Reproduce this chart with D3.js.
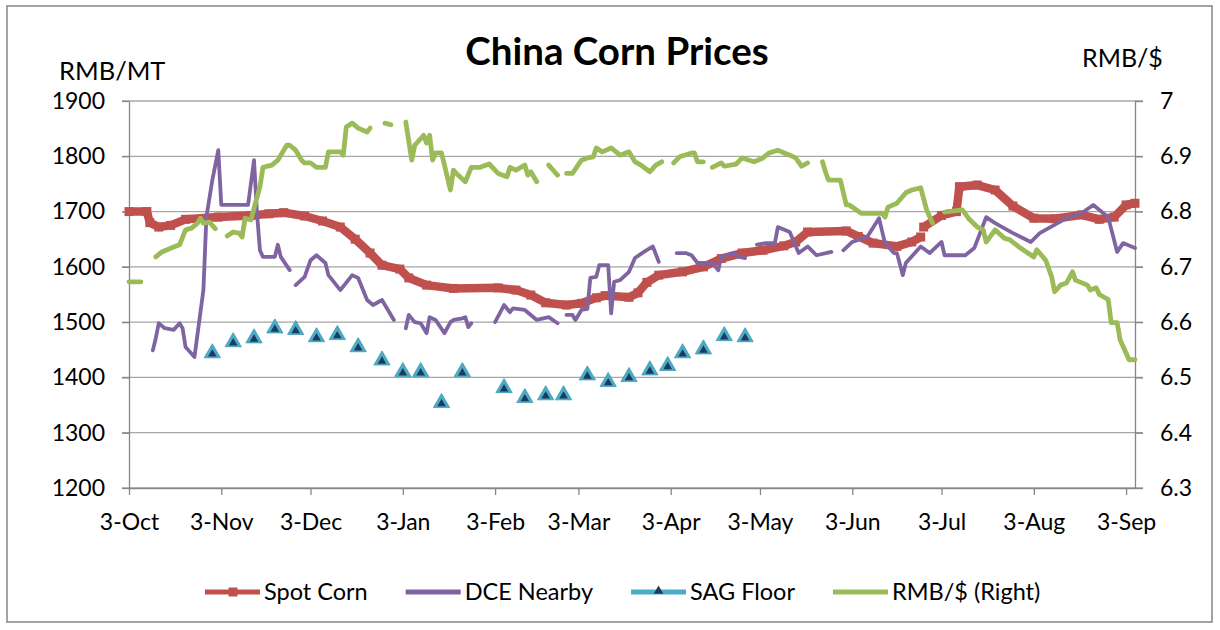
<!DOCTYPE html>
<html><head><meta charset="utf-8">
<script src="https://cdn.jsdelivr.net/npm/d3@7"></script>
<style>
body{margin:0;background:#fff}
svg{display:block}
text{font-family:Lato,"Open Sans",sans-serif;fill:#000}
</style>
</head><body>
<svg id="c" width="1220" height="630"></svg>
<script>
// ---------- DATA ----------
const xTickDates=["2016-10-03","2016-11-03","2016-12-03","2017-01-03","2017-02-03","2017-03-03","2017-04-03","2017-05-03","2017-06-03","2017-07-03","2017-08-03","2017-09-03"];
const leftTicks=[1200,1300,1400,1500,1600,1700,1800,1900];
const rightTicks=[6.3,6.4,6.5,6.6,6.7,6.8,6.9,7];
const seriesNames=["Spot Corn","DCE Nearby","SAG Floor","RMB/$ (Right)"];

const spotDates=["2016-10-03","2016-10-09","2016-10-10","2016-10-13","2016-10-17","2016-10-22",
"2016-11-02","2016-11-13","2016-11-19","2016-11-24",
"2016-12-01","2016-12-07","2016-12-13","2016-12-18","2016-12-23","2016-12-27",
"2017-01-02","2017-01-05","2017-01-11","2017-01-20",
"2017-02-04","2017-02-10","2017-02-15","2017-02-20","2017-02-27",
"2017-03-04","2017-03-09","2017-03-12","2017-03-20","2017-03-23","2017-03-26","2017-03-30",
"2017-04-07","2017-04-14","2017-04-20","2017-04-27",
"2017-05-04","2017-05-11","2017-05-15","2017-05-19",
"2017-06-01","2017-06-05","2017-06-10","2017-06-18","2017-06-23","2017-06-26",null,"2017-06-27",
"2017-07-03","2017-07-08","2017-07-09","2017-07-15","2017-07-21","2017-07-27",
"2017-08-03","2017-08-10","2017-08-19","2017-08-25","2017-08-30",
"2017-09-03","2017-09-06"];
const spotValues=[1700,1700,1680,1672,1675,1686,
1690,1693,1696,1698,
1692,1683,1672,1650,1625,1603,
1596,1580,1567,1561,
1562,1558,1549,1535,1531,
1534,1544,1548,1545,1553,1572,1585,
1591,1600,1615,1625,
1630,1638,1645,1663,
1665,1655,1643,1637,1645,1654,null,1672,
1693,1700,1745,1748,1739,1710,
1688,1687,1694,1686,1690,
1712,1715];

const dceDates=["2016-10-11","2016-10-12","2016-10-13","2016-10-15","2016-10-18","2016-10-20","2016-10-21","2016-10-22","2016-10-25","2016-10-28","2016-10-29","2016-10-31",
"2016-11-02","2016-11-03","2016-11-12","2016-11-14","2016-11-15","2016-11-16","2016-11-17","2016-11-21","2016-11-22","2016-11-23","2016-11-26",null,"2016-11-28",
"2016-12-01","2016-12-03","2016-12-05","2016-12-08","2016-12-09","2016-12-13","2016-12-17","2016-12-19","2016-12-22","2016-12-24","2016-12-27","2016-12-31",null,
"2017-01-04","2017-01-05","2017-01-07","2017-01-09","2017-01-11","2017-01-12","2017-01-14","2017-01-17","2017-01-19","2017-01-20","2017-01-23","2017-01-24","2017-01-25","2017-01-26",null,
"2017-02-03","2017-02-06","2017-02-08","2017-02-09","2017-02-13","2017-02-17","2017-02-21","2017-02-24",null,"2017-02-27",
"2017-03-01","2017-03-02","2017-03-04","2017-03-06","2017-03-07","2017-03-09","2017-03-10","2017-03-13","2017-03-14","2017-03-15","2017-03-17","2017-03-20","2017-03-22","2017-03-25","2017-03-28","2017-03-30",null,
"2017-04-05","2017-04-08","2017-04-10","2017-04-12","2017-04-17","2017-04-19","2017-04-20","2017-04-24","2017-04-26","2017-04-28",null,
"2017-05-02","2017-05-05","2017-05-08","2017-05-09","2017-05-13","2017-05-16","2017-05-19","2017-05-22","2017-05-27",null,"2017-05-31",
"2017-06-03","2017-06-08","2017-06-12","2017-06-14","2017-06-17","2017-06-18","2017-06-20","2017-06-21","2017-06-26","2017-06-29",
"2017-07-03","2017-07-04","2017-07-11","2017-07-14","2017-07-18","2017-07-21","2017-07-27",
"2017-08-02","2017-08-05","2017-08-08","2017-08-14","2017-08-19","2017-08-23","2017-08-28","2017-08-31",
"2017-09-02","2017-09-06"];
const dceValues=[1449,1471,1498,1489,1486,1498,1489,1455,1437,1558,1690,1757,
1811,1712,1712,1793,1697,1630,1618,1618,1640,1618,1594,null,1567,
1582,1612,1621,1607,1585,1558,1585,1580,1540,1531,1540,1504,null,
1489,1513,1500,1498,1480,1509,1504,1480,1500,1504,1507,1509,1491,1498,null,
1500,1531,1518,1525,1522,1504,1509,1498,null,1513,
1513,1504,1522,1524,1580,1582,1603,1603,1516,1573,1576,1591,1616,1627,1637,1609,null,
1625,1625,1621,1607,1607,1594,1618,1625,1618,1616,null,
1640,1643,1643,1672,1663,1625,1637,1621,1627,null,1630,
1645,1654,1688,1643,1625,1625,1585,1607,1637,1625,
1645,1621,1621,1634,1690,1679,1661,
1645,1661,1670,1688,1697,1712,1690,1627,
1643,1634];

const sagDates=["2016-10-31","2016-11-07","2016-11-14","2016-11-21","2016-11-28","2016-12-05","2016-12-12","2016-12-19","2016-12-27",
"2017-01-03","2017-01-09","2017-01-16","2017-01-23","2017-02-06","2017-02-13","2017-02-20","2017-02-26",
"2017-03-06","2017-03-13","2017-03-20","2017-03-27","2017-04-02","2017-04-07","2017-04-14","2017-04-21","2017-04-28"];
const sagValues=[1444,1464,1471,1489,1486,1473,1477,1455,1431,
1410,1410,1354,1410,1381,1363,1368,1368,
1404,1392,1401,1413,1421,1444,1451,1475,1473];

const rmbDates=["2016-10-03","2016-10-07",null,"2016-10-12","2016-10-14","2016-10-18","2016-10-20","2016-10-22","2016-10-24","2016-10-26","2016-10-27","2016-10-28","2016-10-30",
"2016-11-01",null,"2016-11-05","2016-11-07","2016-11-09","2016-11-10","2016-11-11","2016-11-13","2016-11-14","2016-11-16","2016-11-17","2016-11-20","2016-11-22","2016-11-25","2016-11-26","2016-11-28","2016-11-30",
"2016-12-01","2016-12-03","2016-12-05","2016-12-08","2016-12-09","2016-12-13","2016-12-14","2016-12-15","2016-12-17","2016-12-19","2016-12-22","2016-12-23",null,"2016-12-28","2016-12-30",null,
"2017-01-04","2017-01-06","2017-01-07","2017-01-10","2017-01-11","2017-01-12","2017-01-13","2017-01-14","2017-01-16","2017-01-19","2017-01-20","2017-01-21","2017-01-24","2017-01-26","2017-01-29",
"2017-02-01","2017-02-04","2017-02-07","2017-02-08","2017-02-10","2017-02-13","2017-02-14","2017-02-15","2017-02-17",null,"2017-02-21","2017-02-23","2017-02-24",null,"2017-02-27",
"2017-03-01","2017-03-04","2017-03-06","2017-03-08","2017-03-09","2017-03-11","2017-03-14","2017-03-17","2017-03-20","2017-03-22","2017-03-24","2017-03-27","2017-03-29","2017-03-31",null,
"2017-04-04","2017-04-06","2017-04-10","2017-04-11","2017-04-12","2017-04-14",null,"2017-04-17","2017-04-20","2017-04-21","2017-04-25","2017-04-27",
"2017-05-01","2017-05-04","2017-05-06","2017-05-09","2017-05-13","2017-05-15","2017-05-17","2017-05-19",null,"2017-05-24","2017-05-25","2017-05-26","2017-05-30",
"2017-06-01","2017-06-02","2017-06-06","2017-06-13","2017-06-14","2017-06-15","2017-06-18","2017-06-21","2017-06-23","2017-06-26","2017-06-28","2017-06-30",null,
"2017-07-04","2017-07-10","2017-07-12","2017-07-15","2017-07-17","2017-07-18","2017-07-21","2017-07-24","2017-07-26","2017-07-29",
"2017-08-01","2017-08-03","2017-08-04","2017-08-07","2017-08-09","2017-08-10","2017-08-12","2017-08-14","2017-08-16","2017-08-17","2017-08-21","2017-08-22","2017-08-24","2017-08-25","2017-08-28","2017-08-29","2017-08-31",
"2017-09-01","2017-09-04","2017-09-06"];
const rmbValues=[6.673,6.673,null,6.718,6.727,6.736,6.74,6.767,6.77,6.779,6.788,6.779,6.781,
6.769,null,6.756,6.763,6.761,6.754,6.788,6.785,6.806,6.845,6.88,6.884,6.893,6.92,6.92,6.911,6.893,
6.888,6.888,6.88,6.88,6.908,6.908,6.902,6.953,6.96,6.951,6.944,6.951,null,6.96,6.957,null,
6.962,6.893,6.92,6.938,6.924,6.938,6.893,6.906,6.906,6.839,6.875,6.869,6.854,6.88,6.88,
6.886,6.869,6.863,6.88,6.875,6.884,6.866,6.872,6.854,null,6.884,6.872,6.866,null,6.869,
6.869,6.893,6.897,6.899,6.915,6.908,6.915,6.902,6.908,6.89,6.884,6.872,6.884,6.89,null,
6.888,6.899,6.906,6.906,6.89,6.89,null,6.88,6.888,6.882,6.886,6.897,
6.89,6.897,6.906,6.911,6.902,6.897,6.882,6.888,null,6.89,6.872,6.857,6.857,
6.812,6.812,6.797,6.797,6.79,6.808,6.815,6.834,6.839,6.843,6.803,6.779,null,
6.799,6.803,6.788,6.772,6.767,6.745,6.767,6.752,6.749,6.736,
6.725,6.718,6.731,6.712,6.682,6.655,6.667,6.671,6.691,6.676,6.667,6.658,6.662,6.65,6.641,6.599,6.599,
6.568,6.532,6.532];

// ---------- DRAW ----------
const parse=d3.timeParse("%Y-%m-%d");
const pts=(ds,vs)=>ds.map((d,i)=>({date:d?parse(d):null,value:vs[i]}));
const spot=pts(spotDates,spotValues), dce=pts(dceDates,dceValues), sag=pts(sagDates,sagValues), rmb=pts(rmbDates,rmbValues);

const C={red:"#C0504D",purple:"#8064A2",cyan:"#4BACC6",navy:"#1F3A60",green:"#9BBB59",axis:"#868686",grid:"#A6A6A6"};
const P={l:129,r:1135,t:101,b:488};
const svg=d3.select("#c");

svg.append("rect").attr("x",7).attr("y",6).attr("width",1205).attr("height",616)
  .attr("fill","#fff").attr("stroke","#8c8c8c").attr("stroke-width",1.6);

const x=d3.scaleTime().domain([parse("2016-10-03"),parse("2017-09-06")]).range([P.l,P.r]);
const yL=d3.scaleLinear().domain([1200,1900]).range([P.b,P.t]);
const yR=d3.scaleLinear().domain([6.3,7]).range([P.b,P.t]);

// gridlines
svg.append("g").selectAll("line").data(leftTicks).join("line")
  .attr("x1",P.l-7).attr("x2",P.r+8).attr("y1",d=>yL(d)).attr("y2",d=>yL(d))
  .attr("stroke",C.grid).attr("stroke-width",1.3);

function styleAxis(g){
  g.attr("font-family",null).attr("font-size",null);
  g.select(".domain").attr("stroke",C.axis).attr("stroke-width",1.3);
  g.selectAll(".tick line").attr("stroke",C.axis).attr("stroke-width",1.3);
  g.selectAll(".tick text").attr("fill","#000").style("font-size","23px");
}
svg.append("g").attr("transform",`translate(${P.l},0)`)
  .call(d3.axisLeft(yL).tickValues(leftTicks).tickSize(7).tickSizeOuter(0).tickPadding(17).tickFormat(d3.format("d"))).call(styleAxis);
svg.append("g").attr("transform",`translate(${P.r},0)`)
  .call(d3.axisRight(yR).tickValues(rightTicks).tickSize(8).tickSizeOuter(0).tickPadding(17).tickFormat(d=>String(d))).call(styleAxis);
svg.append("g").attr("transform",`translate(0,${P.b})`)
  .call(d3.axisBottom(x).tickValues(xTickDates.map(parse)).tickSize(7).tickSizeOuter(0).tickPadding(19).tickFormat(d3.timeFormat("%-d-%b"))).call(styleAxis);

// series
const lineL=d3.line().defined(d=>d.value!=null).x(d=>x(d.date)).y(d=>yL(d.value));
const lineR=d3.line().defined(d=>d.value!=null).x(d=>x(d.date)).y(d=>yR(d.value));

svg.append("path").datum(spot).attr("d",lineL).attr("fill","none")
  .attr("stroke",C.red).attr("stroke-width",8.5).attr("stroke-linejoin","round");
svg.append("g").selectAll("rect").data(spot.filter(d=>d.value!=null)).join("rect")
  .attr("x",d=>x(d.date)-4.5).attr("y",d=>yL(d.value)-4.5).attr("width",9).attr("height",9).attr("fill",C.red);

svg.append("path").datum(dce).attr("d",lineL).attr("fill","none")
  .attr("stroke",C.purple).attr("stroke-width",3.8).attr("stroke-linejoin","round").attr("stroke-linecap","round");

const triO=d3.symbol(d3.symbolTriangle,115)(), triI=d3.symbol(d3.symbolTriangle,32)();
const sg=svg.append("g").selectAll("g").data(sag).join("g")
  .attr("transform",d=>`translate(${x(d.date)},${yL(d.value)})`);
sg.append("path").attr("d",triO).attr("fill",C.cyan).attr("stroke","#3E9AB3").attr("stroke-width",0.8);
sg.append("path").attr("d",triI).attr("fill",C.navy).attr("transform","translate(0,1)");

svg.append("path").datum(rmb).attr("d",lineR).attr("fill","none")
  .attr("stroke",C.green).attr("stroke-width",4.8).attr("stroke-linejoin","round").attr("stroke-linecap","round");

// titles
svg.append("text").attr("x",617).attr("y",65).attr("text-anchor","middle")
  .style("font-size","38.5px").style("font-weight","700").text("China Corn Prices");
svg.append("text").attr("x",59).attr("y",80).style("font-size","25.5px").text("RMB/MT");
svg.append("text").attr("x",1082).attr("y",67).style("font-size","25px").text("RMB/$");

// legend
const legColors=[C.red,C.purple,C.cyan,C.green];
let lx=205; const ly=592;
seriesNames.forEach((name,i)=>{
  const g=svg.append("g");
  g.append("line").attr("x1",lx).attr("x2",lx+55).attr("y1",ly).attr("y2",ly)
    .attr("stroke",legColors[i]).attr("stroke-width",5);
  if(i===0) g.append("rect").attr("x",lx+23.5).attr("y",ly-4.5).attr("width",9).attr("height",9).attr("fill",C.red);
  if(i===2){
    g.append("path").attr("d",d3.symbol(d3.symbolTriangle,40)()).attr("fill",C.navy)
      .attr("transform",`translate(${lx+27.5},${ly-1})`);
  }
  const t=g.append("text").attr("x",lx+59).attr("y",ly+8).style("font-size","23.5px").text(name);
  lx+=59+t.node().getComputedTextLength()+38;
});
</script>
</body></html>
